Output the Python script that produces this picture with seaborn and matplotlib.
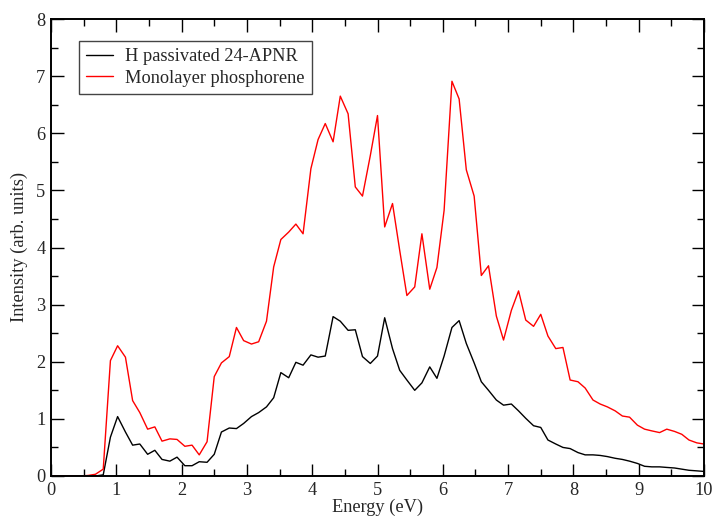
import numpy as np
import pandas as pd
import matplotlib
matplotlib.use("Agg")
import matplotlib.pyplot as plt
import seaborn as sns
from matplotlib.ticker import MultipleLocator

# Energy grid (eV)
energy = [0.00, 0.11, 0.23, 0.34, 0.45, 0.57, 0.68, 0.80, 0.91, 1.02,
          1.14, 1.25, 1.36, 1.48, 1.59, 1.70, 1.82, 1.93, 2.05, 2.16,
          2.27, 2.39, 2.50, 2.61, 2.73, 2.84, 2.95, 3.07, 3.18, 3.30,
          3.41, 3.52, 3.64, 3.75, 3.86, 3.98, 4.09, 4.20, 4.32, 4.43,
          4.55, 4.66, 4.77, 4.89, 5.00, 5.11, 5.23, 5.34, 5.45, 5.57,
          5.68, 5.80, 5.91, 6.02, 6.14, 6.25, 6.36, 6.48, 6.59, 6.70,
          6.82, 6.93, 7.05, 7.16, 7.27, 7.39, 7.50, 7.61, 7.73, 7.84,
          7.95, 8.07, 8.18, 8.30, 8.41, 8.52, 8.64, 8.75, 8.86, 8.98,
          9.09, 9.20, 9.32, 9.43, 9.55, 9.66, 9.77, 9.89, 10.00]

apnr = [0, 0, 0, 0, 0, 0, 0, 0.02, 0.68, 1.04,
        0.77, 0.54, 0.56, 0.38, 0.45, 0.29, 0.26, 0.33, 0.18, 0.18,
        0.25, 0.24, 0.38, 0.77, 0.84, 0.83, 0.92, 1.04, 1.11, 1.21,
        1.37, 1.81, 1.72, 1.99, 1.94, 2.12, 2.08, 2.10, 2.79, 2.71,
        2.55, 2.56, 2.09, 1.97, 2.10, 2.77, 2.23, 1.85, 1.68, 1.50,
        1.63, 1.91, 1.71, 2.10, 2.60, 2.72, 2.32, 1.98, 1.65, 1.50,
        1.33, 1.24, 1.26, 1.14, 1.01, 0.88, 0.85, 0.63, 0.56, 0.50,
        0.48, 0.41, 0.37, 0.37, 0.36, 0.34, 0.31, 0.29, 0.26, 0.22,
        0.17, 0.16, 0.16, 0.15, 0.14, 0.12, 0.10, 0.09, 0.08]

mono = [0, 0, 0, 0, 0, 0.01, 0.03, 0.12, 2.02, 2.28,
        2.08, 1.32, 1.11, 0.82, 0.86, 0.61, 0.65, 0.64, 0.52, 0.54,
        0.37, 0.60, 1.74, 1.98, 2.09, 2.60, 2.37, 2.31, 2.35, 2.71,
        3.66, 4.14, 4.27, 4.41, 4.24, 5.38, 5.89, 6.17, 5.85, 6.65,
        6.34, 5.06, 4.90, 5.61, 6.31, 4.36, 4.77, 3.95, 3.16, 3.31,
        4.24, 3.27, 3.65, 4.65, 6.91, 6.60, 5.36, 4.90, 3.51, 3.68,
        2.80, 2.38, 2.90, 3.24, 2.73, 2.62, 2.83, 2.45, 2.23, 2.25,
        1.68, 1.65, 1.54, 1.33, 1.26, 1.21, 1.14, 1.05, 1.03, 0.89,
        0.82, 0.79, 0.76, 0.82, 0.78, 0.73, 0.63, 0.58, 0.56]

labels = ["H passivated 24-APNR", "Monolayer phosphorene"]

df = pd.concat([
    pd.DataFrame({"Energy": energy, "Intensity": apnr, "series": labels[0]}),
    pd.DataFrame({"Energy": energy, "Intensity": mono, "series": labels[1]}),
])

sns.set_style("ticks")
plt.rcParams["font.family"] = ["Liberation Serif", "DejaVu Serif"]

fs = 13.2

fig = plt.figure(figsize=(7.14, 5.18), dpi=100)
ax = fig.add_axes([51 / 714, 42 / 518, 653 / 714, 457 / 518])

sns.lineplot(data=df, x="Energy", y="Intensity", hue="series",
             palette=["black", "red"], linewidth=1.0, ax=ax)

ax.set_xlim(0, 10)
ax.set_ylim(0, 8)
ax.xaxis.set_major_locator(MultipleLocator(1))
ax.xaxis.set_minor_locator(MultipleLocator(0.5))
ax.yaxis.set_major_locator(MultipleLocator(1))
ax.yaxis.set_minor_locator(MultipleLocator(0.5))
ax.tick_params(which="both", direction="in", top=True, right=True,
               labelsize=fs, width=1.0, color="black")
ax.tick_params(which="major", length=9, pad=4)
ax.tick_params(which="minor", length=5)
for s in ax.spines.values():
    s.set_linewidth(1.4)
    s.set_color("black")

ax.set_xlabel("Energy (eV)", fontsize=fs, labelpad=0)
ax.set_ylabel("Intensity (arb. units)", fontsize=fs, labelpad=6)

leg = ax.legend(loc="upper left", bbox_to_anchor=(0.043, 0.952),
                fontsize=fs, frameon=True, fancybox=False,
                handlelength=1.45, handletextpad=0.65, labelspacing=0.25,
                borderpad=0.4, borderaxespad=0)
leg.get_frame().set_edgecolor("#444444")
leg.get_frame().set_linewidth(1.0)
leg.get_frame().set_alpha(1)

fig.savefig("out.png", dpi=100)
